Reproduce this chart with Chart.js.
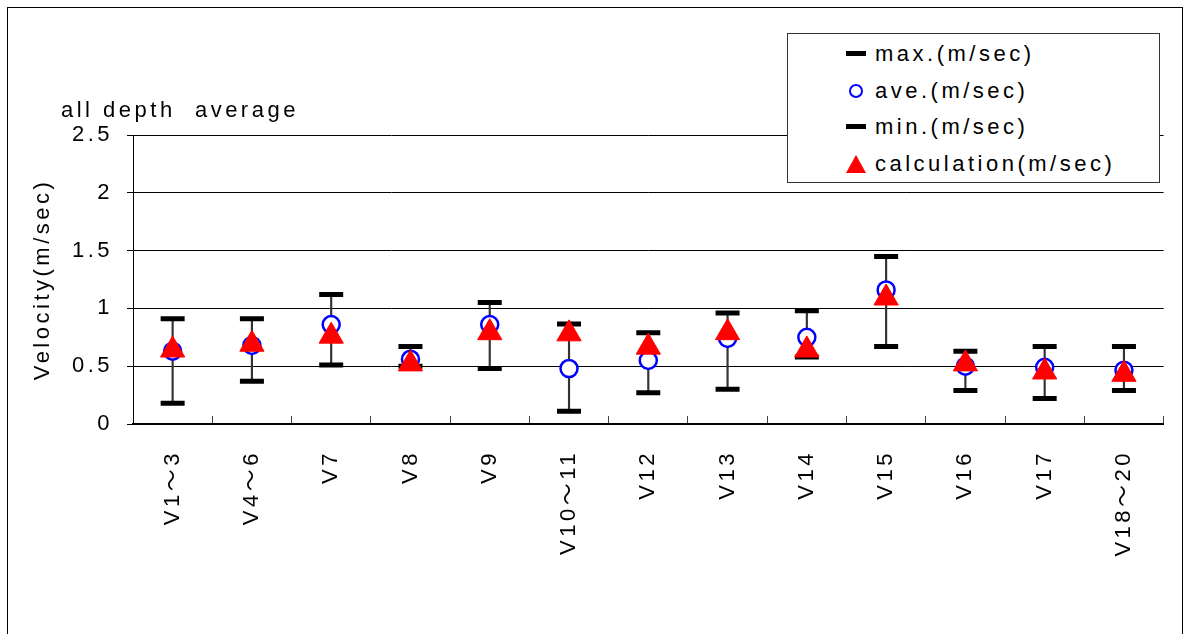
<!DOCTYPE html>
<html>
<head>
<meta charset="utf-8">
<script src="https://cdn.jsdelivr.net/npm/chart.js@4.4.1/dist/chart.umd.min.js"></script>
<style>
  body { margin: 0; background: #fff; }
  #wrap { position: relative; width: 1185px; height: 634px; overflow: hidden;
          font-family: "Liberation Sans", Arial, "Noto Sans CJK JP", sans-serif; color: #000; }
  #frame { position: absolute; left: 7px; top: 7px; width: 1174px; height: 700px;
           border: 1.5px solid #000; pointer-events: none; }
  #title { position: absolute; left: 61px; top: 98px; font-size: 22px; line-height: 24px;
           letter-spacing: 3.5px; white-space: pre; }
  #legend { position: absolute; left: 787px; top: 33px; width: 371px; height: 148px;
            border: 1px solid #333; background: #fff; }
  .item { position: absolute; left: 0; width: 100%; height: 30px; }
  .item span { position: absolute; left: 87px; top: 0; line-height: 30px; font-size: 22px;
               letter-spacing: 3.5px; white-space: nowrap; }
  .mk { position: absolute; }
</style>
</head>
<body>
<div id="wrap">
  <canvas id="chart" width="1185" height="634"></canvas>
  <div id="title">all depth  average</div>
  <div id="legend"></div>
  <div id="frame"></div>
</div>
<script>
const labels = ['V1～3', 'V4～6', 'V7', 'V8', 'V9', 'V10～11', 'V12', 'V13', 'V14', 'V15', 'V16', 'V17', 'V18～20'];
const maxVals = [0.91, 0.91, 1.12, 0.67, 1.05, 0.865, 0.79, 0.96, 0.98, 1.45, 0.63, 0.67, 0.67];
const aveVals = [0.63, 0.68, 0.86, 0.56, 0.86, 0.48, 0.55, 0.74, 0.75, 1.16, 0.50, 0.49, 0.465];
const minVals = [0.18, 0.37, 0.51, 0.50, 0.48, 0.11, 0.27, 0.30, 0.58, 0.67, 0.29, 0.22, 0.29];
const calcVals = [0.64, 0.69, 0.76, 0.52, 0.79, 0.78, 0.665, 0.79, 0.64, 1.09, 0.52, 0.45, 0.43];
const yTicks = [0, 0.5, 1, 1.5, 2, 2.5];

const fontFamily = '"Liberation Sans", Arial, "Noto Sans CJK JP", sans-serif';

// canvas text in the reference is spaced out
const spacing = {
    id: 'spacing',
    beforeUpdate(chart) { chart.ctx.letterSpacing = '3.5px'; },
    beforeDraw(chart) { chart.ctx.letterSpacing = '3.5px'; }
};

const ctx = document.getElementById('chart').getContext('2d');
const chart = new Chart(ctx, {
    type: 'bar',
    data: {
        labels: labels,
        datasets: [
            {
                type: 'line', label: 'calculation(m/sec)', data: calcVals, showLine: false,
                pointStyle: 'triangle', pointRadius: 14, backgroundColor: '#ff0000',
                borderColor: '#ff0000', borderWidth: 1
            },
            {
                type: 'line', label: 'ave.(m/sec)', data: aveVals, showLine: false,
                pointStyle: 'circle', pointRadius: 8.5, backgroundColor: '#ffffff',
                borderColor: '#0000ff', borderWidth: 2.5
            },
            {
                type: 'line', label: 'max.(m/sec)', data: maxVals, showLine: false,
                pointStyle: 'line', pointRadius: 12, borderColor: '#000', borderWidth: 5
            },
            {
                type: 'line', label: 'min.(m/sec)', data: minVals, showLine: false,
                pointStyle: 'line', pointRadius: 12, borderColor: '#000', borderWidth: 5
            },
            {
                type: 'bar', label: 'range', data: labels.map((l, i) => [minVals[i], maxVals[i]]),
                backgroundColor: '#333', borderWidth: 0, barThickness: 1.5
            }
        ]
    },
    options: {
        responsive: false,
        animation: false,
        events: [],
        layout: { padding: { left: 0, right: 11, top: 135, bottom: 0 } },
        plugins: { legend: { display: false }, tooltip: { enabled: false } },
        scales: {
            x: {
                offset: true,
                grid: {
                    offset: true,
                    color: c => (c.index === 0 || c.index === labels.length) ? '#000' : 'rgba(0,0,0,0)',
                    lineWidth: 1,
                    tickLength: -8,
                    tickColor: '#444',
                    tickWidth: 1
                },
                border: { display: true, color: '#000', width: 2 },
                ticks: {
                    minRotation: 90, maxRotation: 90, autoSkip: false, padding: 34,
                    color: '#000', font: { size: 22, family: fontFamily }
                },
                afterFit: s => { s.height = 210; }
            },
            y: {
                min: 0, max: 2.5,
                afterBuildTicks: s => { s.ticks = yTicks.map(v => ({ value: v })); },
                grid: { color: '#000', lineWidth: 1, tickLength: 6, tickColor: '#000' },
                border: { color: '#000', width: 1 },
                ticks: {
                    padding: 14, color: '#000', font: { size: 22, family: fontFamily },
                    callback: v => String(v)
                },
                title: {
                    display: true, text: 'Velocity(m/sec)', color: '#000',
                    font: { size: 22, family: fontFamily }, padding: { top: 30, bottom: 0 }
                },
                afterFit: s => { s.width = 133; }
            }
        }
    },
    plugins: [spacing]
});

// legend box, same order as the reference
const legendOrder = [2, 1, 3, 0];
const legend = document.getElementById('legend');
legendOrder.forEach((di, row) => {
    const ds = chart.data.datasets[di];
    const item = document.createElement('div');
    item.className = 'item';
    item.style.top = (5 + row * 36.5) + 'px';
    const mk = document.createElement('div');
    mk.className = 'mk';
    if (ds.pointStyle === 'line') {
        Object.assign(mk.style, { left: '58px', top: '12px', width: '20px', height: '5px', background: ds.borderColor });
    } else if (ds.pointStyle === 'circle') {
        Object.assign(mk.style, { left: '61px', top: '8px', width: '10px', height: '10px', borderRadius: '50%',
            border: '2.5px solid ' + ds.borderColor });
    } else {
        Object.assign(mk.style, { left: '58px', top: '6px', width: '0', height: '0',
            borderLeft: '10px solid transparent', borderRight: '10px solid transparent',
            borderBottom: '18px solid ' + ds.backgroundColor });
    }
    const txt = document.createElement('span');
    txt.textContent = ds.label;
    item.appendChild(mk);
    item.appendChild(txt);
    legend.appendChild(item);
});
</script>
</body>
</html>
